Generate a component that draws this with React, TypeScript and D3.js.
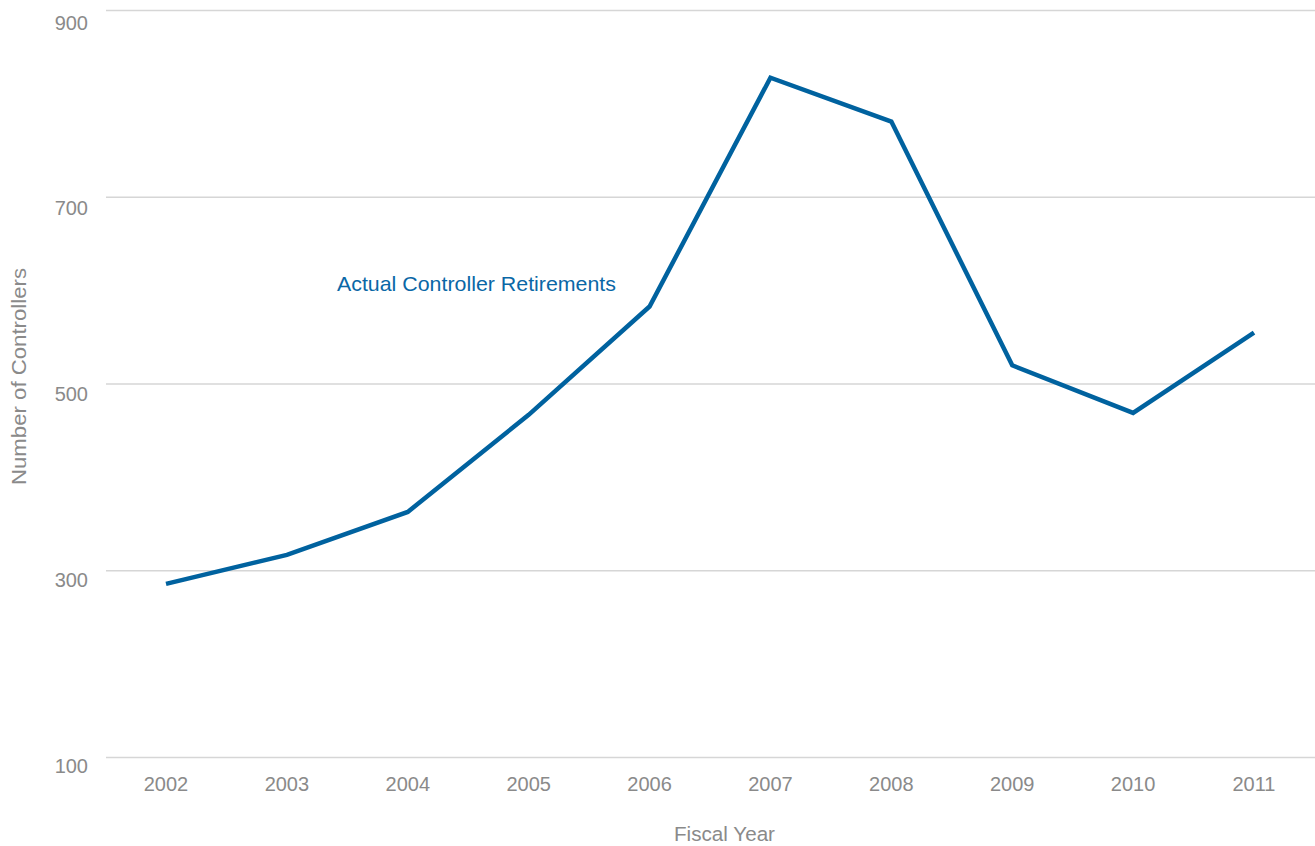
import React from "react";
import * as d3 from "d3";

const years = ["2002", "2003", "2004", "2005", "2006", "2007", "2008", "2009", "2010", "2011"];
const retirements = [286, 317, 363, 467, 583, 828, 781, 520, 469, 555];
const yTicks = [100, 300, 500, 700, 900];

const W = 1315;
const H = 846;
const left = 106;
const right = 1315;
const top = 10.5;
const bottom = 757.5;

export default function App() {
  const x = d3.scalePoint<string>().domain(years).range([166, 1254]);
  const y = d3.scaleLinear().domain([100, 900]).range([bottom, top]);
  const yLab = d3.scaleLinear().domain([100, 900]).range([772.5, 29.5]);
  const line = d3
    .line<number>()
    .x((_, i) => x(years[i]) as number)
    .y((d) => y(d));
  const font = "'Liberation Sans', Arial, Helvetica, sans-serif";
  const gray = "#8a8a8a";
  return (
    <svg
      width={W}
      height={H}
      style={{ position: "absolute", left: 0, top: 0, fontFamily: font }}
    >
      <rect width={W} height={H} fill="#fff" />
      {yTicks.map((t) => (
        <g key={t}>
          <line x1={left} x2={right} y1={y(t)} y2={y(t)} stroke="#d6d6d6" strokeWidth={1.3} />
          <text x={88} y={yLab(t)} textAnchor="end" fontSize={20} fill={gray}>
            {t}
          </text>
        </g>
      ))}
      {years.map((yr) => (
        <text key={yr} x={x(yr)} y={791} textAnchor="middle" fontSize={20} fill={gray}>
          {yr}
        </text>
      ))}
      <text x={674} y={841} fontSize={20.5} fill={gray} textLength={101} lengthAdjust="spacingAndGlyphs">
        Fiscal Year
      </text>
      <text
        transform={`translate(26,485) rotate(-90)`}
        fontSize={20.5}
        fill={gray}
        textLength={217}
        lengthAdjust="spacingAndGlyphs"
      >
        Number of Controllers
      </text>
      <path d={line(retirements) ?? ""} fill="none" stroke="#00629f" strokeWidth={4.5} strokeLinejoin="miter" />
      <text x={337} y={290.5} fontSize={21} fill="#0a67a6" textLength={279} lengthAdjust="spacingAndGlyphs">
        Actual Controller Retirements
      </text>
    </svg>
  );
}
